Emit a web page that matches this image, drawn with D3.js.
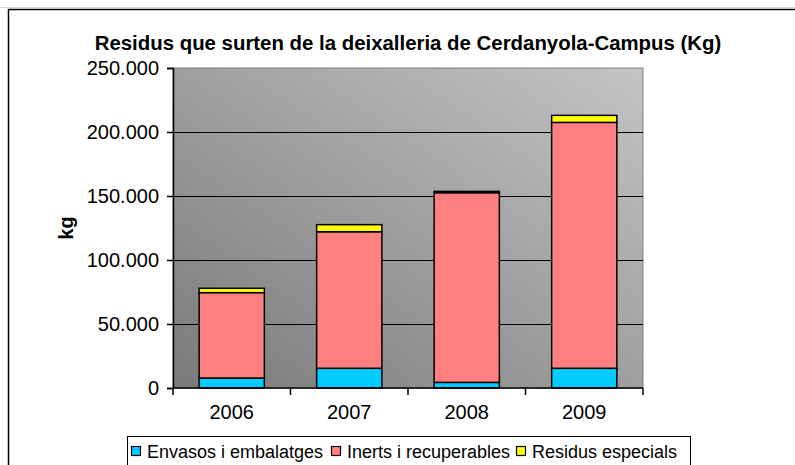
<!DOCTYPE html>
<html><head><meta charset="utf-8">
<script src="https://cdn.jsdelivr.net/npm/d3@7"></script>
<style>body{margin:0;background:#fff}svg{display:block}text{font-family:"Liberation Sans",Arial,sans-serif}</style>
</head><body><svg id="c" width="795" height="465"></svg>
<script>
const title = "Residus que surten de la deixalleria de Cerdanyola-Campus (Kg)";
const yLabel = "kg";
const years = ["2006", "2007", "2008", "2009"];
const seriesNames = ["Envasos i embalatges", "Inerts i recuperables", "Residus especials"];
const envasos = [7800, 15400, 4400, 15400];
const inerts = [66700, 106700, 148200, 192100];
const especials = [3400, 5500, 1000, 5500];
const colors = ["#00ccff", "#ff8080", "#ffff00"];
const yTicks = [0, 50000, 100000, 150000, 200000, 250000];

const svg = d3.select("#c");
const m = {l: 173, t: 68, r: 643, b: 388};

// outer frame
svg.append("line").attr("x1", 0).attr("x2", 795).attr("y1", 7.5).attr("y2", 7.5).attr("stroke", "#d8d8d8");
svg.append("path").attr("d", "M8.5,465V9.5H795").attr("fill", "none").attr("stroke", "#000").attr("stroke-width", 1.5);

const x = d3.scaleBand().domain(years).range([m.l, m.r]).paddingInner(0.445).paddingOuter(0.2225);
const y = d3.scaleLinear().domain([0, 250000]).range([m.b, m.t]);

const defs = svg.append("defs");
const g = defs.append("linearGradient").attr("id", "bg").attr("x1", "0").attr("y1", "1").attr("x2", "1").attr("y2", "0");
g.append("stop").attr("offset", "0").attr("stop-color", "#7a7a7a");
g.append("stop").attr("offset", "1").attr("stop-color", "#c4c4c4");

svg.append("rect").attr("x", m.l).attr("y", m.t).attr("width", m.r - m.l).attr("height", m.b - m.t)
  .attr("fill", "url(#bg)").attr("stroke", "#808080").attr("stroke-width", 1);

// gridlines
svg.append("g").selectAll("line").data(yTicks.filter(d => d > 0 && d < 250000)).join("line")
  .attr("x1", m.l).attr("x2", m.r).attr("y1", d => Math.round(y(d)) + 0.5).attr("y2", d => Math.round(y(d)) + 0.5)
  .attr("stroke", "#000").attr("stroke-width", 1);

// stacked bars
const table = years.map((yr, i) => ({year: yr, s0: envasos[i], s1: inerts[i], s2: especials[i]}));
const stack = d3.stack().keys(["s0", "s1", "s2"])(table);
svg.append("g").selectAll("g").data(stack).join("g").attr("fill", (d, i) => colors[i])
  .selectAll("rect").data(d => d).join("rect")
  .attr("x", d => x(d.data.year)).attr("width", x.bandwidth())
  .attr("y", d => y(d[1])).attr("height", d => y(d[0]) - y(d[1]))
  .attr("stroke", "#000").attr("stroke-width", 1.5);

// y axis
const fmt = d => d === 0 ? "0" : d3.format(",")(d).replace(/,/g, ".");
const ya = svg.append("g").attr("transform", `translate(${m.l},0)`)
  .call(d3.axisLeft(y).tickValues(yTicks).tickFormat(fmt).tickSize(6).tickPadding(8));
ya.select(".domain").attr("stroke", "#000").attr("stroke-width", 1.5);
ya.selectAll(".tick line").attr("stroke", "#000").attr("stroke-width", 1.5);
ya.selectAll("text").attr("font-size", 20).attr("fill", "#000").attr("font-family", '"Liberation Sans",Arial,sans-serif');

// x axis
const xa = svg.append("g").attr("transform", `translate(0,${m.b})`);
xa.append("line").attr("x1", m.l).attr("x2", m.r).attr("stroke", "#000").attr("stroke-width", 1.5);
const bounds = d3.range(years.length + 1).map(i => m.l + i * (m.r - m.l) / years.length);
xa.selectAll(".tk").data(bounds).join("line").attr("class", "tk")
  .attr("x1", d => d).attr("x2", d => d).attr("y1", 0).attr("y2", 7).attr("stroke", "#000").attr("stroke-width", 1.5);
xa.selectAll("text").data(years).join("text")
  .attr("x", d => x(d) + x.bandwidth() / 2).attr("y", 31).attr("text-anchor", "middle")
  .attr("font-size", 20).text(d => d);

// title
svg.append("text").attr("x", 408).attr("y", 50).attr("text-anchor", "middle")
  .attr("font-size", 20.4).attr("font-weight", "bold").text(title);

// y label
svg.append("text").attr("transform", "translate(73,228) rotate(-90)").attr("text-anchor", "middle")
  .attr("font-size", 20).attr("font-weight", "bold").text(yLabel);

// legend
const lg = svg.append("g");
lg.append("rect").attr("x", 127.5).attr("y", 436.5).attr("width", 563).attr("height", 40)
  .attr("fill", "#fff").attr("stroke", "#000").attr("stroke-width", 1);
const lx = [131, 331, 516];
const items = lg.selectAll("g.it").data(seriesNames).join("g").attr("class", "it")
  .attr("transform", (d, i) => `translate(${lx[i]},0)`);
items.append("rect").attr("x", 0.5).attr("y", 446.5).attr("width", 9).attr("height", 9)
  .attr("fill", (d, i) => colors[i]).attr("stroke", "#000").attr("stroke-width", 1.2);
items.append("text").attr("x", 16).attr("y", 458).attr("font-size", 18).text(d => d);
</script></body></html>
